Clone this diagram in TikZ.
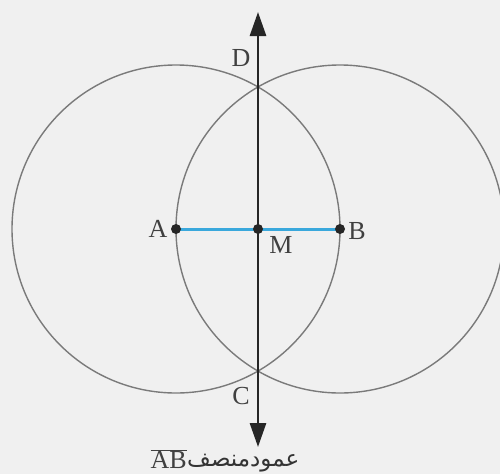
\documentclass[tikz,border=0pt]{standalone}
\usepackage{fontspec}
\setmainfont{Liberation Serif}
\newfontfamily\arabicfont[Script=Arabic]{DejaVu Sans}
\TeXXeTstate=1
\usetikzlibrary{arrows.meta}
\definecolor{bg}{HTML}{F0F0F0}
\definecolor{circ}{HTML}{7A7A7A}
\definecolor{seg}{HTML}{3AA8DC}
\tikzset{
  circline/.style={draw=circ, line width=1.4pt},
  axis/.style={line width=2.8pt, -{Triangle[length=24pt,width=16pt]}, draw=black!85},
  dotpt/.style={circle, fill=black!85, inner sep=0pt, minimum size=10pt},
  lbl/.style={font=\fontsize{26}{28}\selectfont, text=black!75, inner sep=1pt}
}
\begin{document}
\begin{tikzpicture}[x=1pt,y=-1pt]
\fill[bg] (0,0) rectangle (500,474);
\useasboundingbox (0,0) rectangle (500,474);
\coordinate (A) at (176,229);
\coordinate (B) at (340,229);
\coordinate (M) at (258,229);
\coordinate (Top) at (258,12);
\coordinate (Bot) at (258,447);
\draw[circline] (A) circle (164);
\draw[circline] (B) circle (164);
\draw[axis] (M) -- (Top);
\draw[axis] (M) -- (Bot);
\draw[seg, line width=3pt] (A) -- (B);
\node[dotpt] (a) at (A) {};
\node[dotpt] (b) at (B) {};
\node[dotpt] (m) at (M) {};
\node[lbl] (la) at (158,229) {A};
\node[lbl] (lb) at (357,231) {B};
\node[lbl] (lm) at (281,245) {M};
\node[lbl] (ld) at (241,58) {D};
\node[lbl] (lc) at (241,396) {C};
\node[lbl, anchor=east] (lab) at (188,459) {$\overline{\mathrm{AB}}$};
\node[anchor=west, inner sep=0pt, text=black!80, font=\fontsize{23}{25}\selectfont\arabicfont] (arab) at (187,463) {\beginR عمودمنصف\endR};
\end{tikzpicture}
\end{document}
